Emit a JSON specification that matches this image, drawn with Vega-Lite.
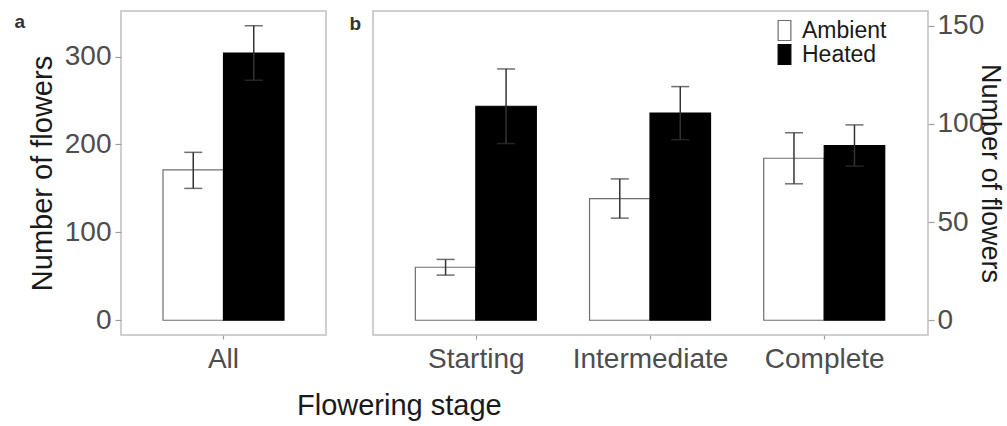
{
  "$schema": "https://vega.github.io/schema/vega-lite/v6.json",
  "padding": {"left": 13, "top": 10, "right": 2, "bottom": 2},
  "background": "white",
  "title": {"text": "Flowering stage", "orient": "bottom", "anchor": "start", "frame": "group", "dx": 176, "offset": 18, "fontSize": 29, "fontWeight": "normal", "color": "#1a1a1a"},
  "config": {
    "font": "Liberation Sans",
    "view": {"stroke": "#c0c0c0", "strokeWidth": 1.5},
    "axis": {"grid": false, "domain": false, "tickColor": "#9e9e9e", "tickWidth": 1.2, "labelColor": "#4d4d4d", "labelFontSize": 28, "titleFontSize": 29, "titleFontWeight": "normal", "titleColor": "#1a1a1a"}
  },
  "bounds": "flush",
  "spacing": 47,
  "resolve": {"legend": {"fill": "independent", "stroke": "independent"}},
  "hconcat": [
    {
      "width": 205,
      "height": 324,
      "data": {"values": [
        {"stage": "All", "treatment": "Ambient", "mean": 171, "lo": 150, "hi": 191},
        {"stage": "All", "treatment": "Heated", "mean": 304, "lo": 273, "hi": 335}
      ]},
      "encoding": {
        "x": {"field": "stage", "type": "nominal", "scale": {"paddingInner": 0.3, "paddingOuter": 0.243}, "axis": {"title": "a", "titleX": -107, "titleY": -308, "titleAlign": "left", "titleBaseline": "alphabetic", "titleAngle": 0, "titleFontSize": 19, "titleFontWeight": "bold", "titleColor": "#333333", "labelAngle": 0, "tickSize": 4, "labelPadding": 6}},
        "xOffset": {"field": "treatment", "type": "nominal", "sort": ["Ambient", "Heated"], "scale": {"paddingInner": 0, "paddingOuter": 0}}
      },
      "layer": [
        {
          "mark": {"type": "bar", "strokeWidth": 1.2},
          "encoding": {
            "y": {"field": "mean", "type": "quantitative", "title": "Number of flowers", "scale": {"domain": [-16.75, 351.75], "nice": false, "zero": false}, "axis": {"values": [0, 100, 200, 300], "tickSize": 6, "labelPadding": 4, "titlePadding": 7}},
            "y2": {"datum": 0},
            "fill": {"field": "treatment", "type": "nominal", "scale": {"domain": ["Ambient", "Heated"], "range": ["white", "black"]}, "legend": null},
            "stroke": {"field": "treatment", "type": "nominal", "scale": {"domain": ["Ambient", "Heated"], "range": ["#6e6e6e", "black"]}, "legend": null}
          }
        },
        {
          "mark": {"type": "rule", "color": "#333333", "strokeWidth": 1.5},
          "encoding": {
            "y": {"field": "lo", "type": "quantitative", "title": "Number of flowers"},
            "y2": {"field": "hi"}
          }
        },
        {
          "mark": {"type": "tick", "orient": "horizontal", "size": 18, "thickness": 1.5, "color": "#333333"},
          "encoding": {"y": {"field": "lo", "type": "quantitative", "title": "Number of flowers"}}
        },
        {
          "mark": {"type": "tick", "orient": "horizontal", "size": 18, "thickness": 1.5, "color": "#333333"},
          "encoding": {"y": {"field": "hi", "type": "quantitative", "title": "Number of flowers"}}
        }
      ]
    },
    {
      "width": 555,
      "height": 324,
      "data": {"values": [
        {"stage": "Starting", "treatment": "Ambient", "mean": 27, "lo": 23, "hi": 31},
        {"stage": "Starting", "treatment": "Heated", "mean": 109, "lo": 90, "hi": 128},
        {"stage": "Intermediate", "treatment": "Ambient", "mean": 62, "lo": 52, "hi": 72},
        {"stage": "Intermediate", "treatment": "Heated", "mean": 105.5, "lo": 92, "hi": 119},
        {"stage": "Complete", "treatment": "Ambient", "mean": 82.5, "lo": 69.5, "hi": 95.5},
        {"stage": "Complete", "treatment": "Heated", "mean": 89, "lo": 78.5, "hi": 99.5}
      ]},
      "encoding": {
        "x": {"field": "stage", "type": "nominal", "sort": ["Starting", "Intermediate", "Complete"], "scale": {"paddingInner": 0.3, "paddingOuter": 0.243}, "axis": {"title": "b", "titleX": -24, "titleY": -306, "titleAlign": "left", "titleBaseline": "alphabetic", "titleAngle": 0, "titleFontSize": 19, "titleFontWeight": "bold", "titleColor": "#333333", "labelAngle": 0, "tickSize": 4, "labelPadding": 6}},
        "xOffset": {"field": "treatment", "type": "nominal", "sort": ["Ambient", "Heated"], "scale": {"paddingInner": 0, "paddingOuter": 0}}
      },
      "layer": [
        {
          "mark": {"type": "bar", "strokeWidth": 1.2},
          "encoding": {
            "y": {"field": "mean", "type": "quantitative", "title": "Number of flowers", "scale": {"domain": [-7.5, 157.5], "nice": false, "zero": false}, "axis": {"orient": "right", "values": [0, 50, 100, 150], "tickSize": 6, "labelPadding": 3, "titlePadding": -8, "titleFontSize": 27}},
            "y2": {"datum": 0},
            "fill": {"field": "treatment", "type": "nominal", "scale": {"domain": ["Ambient", "Heated"], "range": ["white", "black"]}, "legend": {"title": null, "orient": "none", "legendX": 400, "legendY": 8, "symbolType": "M-0.636,-1H0.636V1H-0.636Z", "symbolSize": 400, "symbolStrokeWidth": 1.2, "labelFontSize": 23, "labelColor": "#1a1a1a", "labelOffset": 6, "padding": 0, "rowPadding": -5}},
            "stroke": {"field": "treatment", "type": "nominal", "scale": {"domain": ["Ambient", "Heated"], "range": ["#6e6e6e", "black"]}, "legend": {"title": null, "orient": "none", "legendX": 400, "legendY": 8, "symbolType": "M-0.636,-1H0.636V1H-0.636Z", "symbolSize": 400, "symbolStrokeWidth": 1.2, "labelFontSize": 23, "labelColor": "#1a1a1a", "labelOffset": 6, "padding": 0, "rowPadding": -5}}
          }
        },
        {
          "mark": {"type": "rule", "color": "#333333", "strokeWidth": 1.5},
          "encoding": {
            "y": {"field": "lo", "type": "quantitative", "title": "Number of flowers"},
            "y2": {"field": "hi"}
          }
        },
        {
          "mark": {"type": "tick", "orient": "horizontal", "size": 18, "thickness": 1.5, "color": "#333333"},
          "encoding": {"y": {"field": "lo", "type": "quantitative", "title": "Number of flowers"}}
        },
        {
          "mark": {"type": "tick", "orient": "horizontal", "size": 18, "thickness": 1.5, "color": "#333333"},
          "encoding": {"y": {"field": "hi", "type": "quantitative", "title": "Number of flowers"}}
        }
      ]
    }
  ]
}
